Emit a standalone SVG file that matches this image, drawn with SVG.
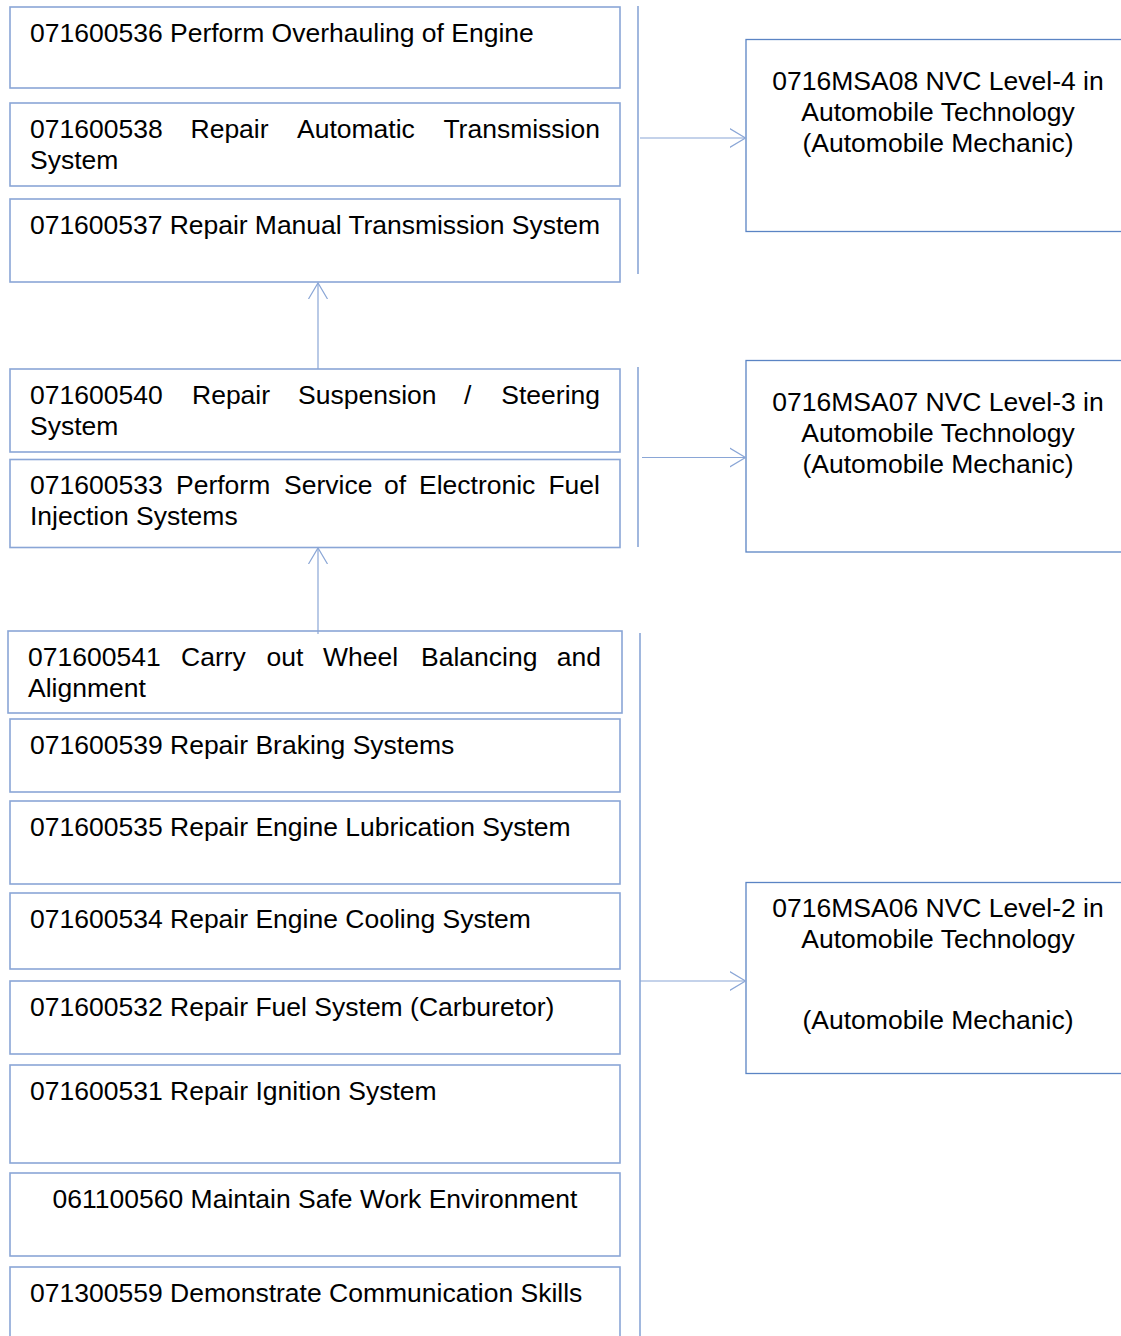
<svg xmlns="http://www.w3.org/2000/svg" width="1121" height="1336" viewBox="0 0 1121 1336">
<style>
.unit{fill:#fff;stroke:#8aa6d6;stroke-width:1.6}
.qual{fill:#fff;stroke:#5b84c4;stroke-width:1.3}
.t{font-family:"Liberation Sans",Arial,sans-serif;font-size:26.5px;fill:#000}
.c{text-anchor:middle}
.e{text-anchor:end}
.br{stroke:#8aa6d6;stroke-width:1.6;fill:none}
.ar{stroke:#8aa6d6;stroke-width:1.2;fill:none}
</style>
<defs>
<marker id="open" markerUnits="userSpaceOnUse" markerWidth="20" markerHeight="24" refX="16" refY="10" orient="auto" viewBox="0 0 20 20">
<path d="M0,0.5 L16,10 L0,19.5" fill="none" stroke="#8aa6d6" stroke-width="1.2"/>
</marker>
</defs>
<rect width="1121" height="1336" fill="#fff"/>

<g id="u536"><rect class="unit" x="10" y="7" width="610" height="81"/><text class="t" x="30" y="41.5">071600536 Perform Overhauling of Engine</text></g>
<g id="u538"><rect class="unit" x="10" y="103" width="610" height="83"/><text class="t" y="137.5"><tspan x="30">071600538</tspan><tspan x="190.5">Repair</tspan><tspan x="297">Automatic</tspan><tspan x="600" text-anchor="end">Transmission</tspan></text><text class="t" x="30" y="168.5">System</text></g>
<g id="u537"><rect class="unit" x="10" y="199" width="610" height="83"/><text class="t" x="30" y="233.5" textLength="570">071600537 Repair Manual Transmission System</text></g>

<g id="u540"><rect class="unit" x="10" y="369" width="610" height="83"/><text class="t" y="403.5"><tspan x="30">071600540</tspan><tspan x="192">Repair</tspan><tspan x="298">Suspension</tspan><tspan x="464">/</tspan><tspan x="600" text-anchor="end">Steering</tspan></text><text class="t" x="30" y="434.5">System</text></g>
<g id="u533"><rect class="unit" x="10" y="459.5" width="610" height="88"/><text class="t" y="493.5"><tspan x="30">071600533</tspan><tspan x="176">Perform</tspan><tspan x="284">Service</tspan><tspan x="384">of</tspan><tspan x="419">Electronic</tspan><tspan x="600" text-anchor="end">Fuel</tspan></text><text class="t" x="30" y="524.5">Injection Systems</text></g>

<g id="u541"><rect class="unit" x="8" y="631" width="614" height="82"/><text class="t" y="665.5"><tspan x="28">071600541</tspan><tspan x="181">Carry</tspan><tspan x="266.5">out</tspan><tspan x="323">Wheel</tspan><tspan x="421">Balancing</tspan><tspan x="601" text-anchor="end">and</tspan></text><text class="t" x="28" y="696.5">Alignment</text></g>
<g id="u539"><rect class="unit" x="10" y="719" width="610" height="73"/><text class="t" x="30" y="753.5">071600539 Repair Braking Systems</text></g>
<g id="u535"><rect class="unit" x="10" y="801" width="610" height="83"/><text class="t" x="30" y="835.5">071600535 Repair Engine Lubrication System</text></g>
<g id="u534"><rect class="unit" x="10" y="893" width="610" height="76"/><text class="t" x="30" y="927.5">071600534 Repair Engine Cooling System</text></g>
<g id="u532"><rect class="unit" x="10" y="981" width="610" height="73"/><text class="t" x="30" y="1015.5">071600532 Repair Fuel System (Carburetor)</text></g>
<g id="u531"><rect class="unit" x="10" y="1065" width="610" height="98"/><text class="t" x="30" y="1099.5">071600531 Repair Ignition System</text></g>
<g id="u560"><rect class="unit" x="10" y="1173" width="610" height="83"/><text class="t c" x="315" y="1207.5">061100560 Maintain Safe Work Environment</text></g>
<g id="u559"><rect class="unit" x="10" y="1267" width="610" height="90"/><text class="t" x="30" y="1301.5">071300559 Demonstrate Communication Skills</text></g>

<g id="l4"><rect class="qual" x="746" y="39.5" width="400" height="192"/><text class="t c" x="938" y="90">0716MSA08 NVC Level-4 in</text><text class="t c" x="938" y="121">Automobile Technology</text><text class="t c" x="938" y="152">(Automobile Mechanic)</text></g>
<g id="l3"><rect class="qual" x="746" y="360.5" width="400" height="191.5"/><text class="t c" x="938" y="411">0716MSA07 NVC Level-3 in</text><text class="t c" x="938" y="442">Automobile Technology</text><text class="t c" x="938" y="473">(Automobile Mechanic)</text></g>
<g id="l2"><rect class="qual" x="746" y="882.5" width="400" height="191"/><text class="t c" x="938" y="917">0716MSA06 NVC Level-2 in</text><text class="t c" x="938" y="948">Automobile Technology</text><text class="t c" x="938" y="1029">(Automobile Mechanic)</text></g>

<g id="connectors">
<line class="br" x1="638" y1="6" x2="638" y2="274"/>
<line class="br" x1="638" y1="367" x2="638" y2="547"/>
<line class="br" x1="640" y1="633" x2="640" y2="1336"/>
<line class="ar" x1="640" y1="138" x2="745.5" y2="138" marker-end="url(#open)"/>
<line class="ar" x1="642" y1="457.5" x2="745.5" y2="457.5" marker-end="url(#open)"/>
<line class="ar" x1="640" y1="981" x2="745.5" y2="981" marker-end="url(#open)"/>
<line class="ar" x1="318" y1="369" x2="318" y2="283" marker-end="url(#open)"/>
<line class="ar" x1="318" y1="634" x2="318" y2="548" marker-end="url(#open)"/>
</g>
</svg>
